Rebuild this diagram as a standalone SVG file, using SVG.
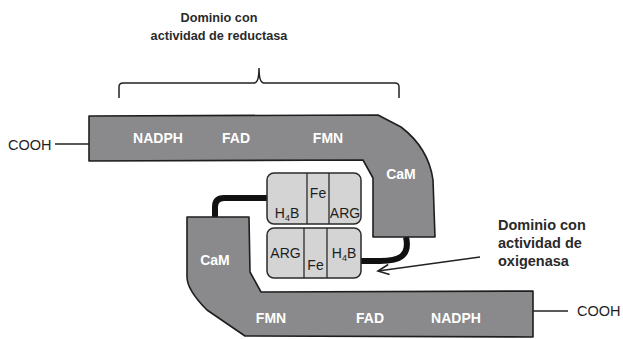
<svg xmlns="http://www.w3.org/2000/svg" width="623" height="339" viewBox="0 0 623 339">
<style>
.band{fill:#8a8a8c;stroke:#1e1e1e;stroke-width:1.6;stroke-linejoin:round}
.box{fill:#d4d4d4;stroke:#2a2a2a;stroke-width:1.5}
.div{stroke:#2a2a2a;stroke-width:1.3}
.wl{font-family:"Liberation Sans",Arial,sans-serif;font-weight:bold;font-size:14px;fill:#ffffff;text-anchor:middle}
.bt{font-family:"Liberation Sans",Arial,sans-serif;font-size:14px;fill:#1e1e1e;text-anchor:middle}
.lbl{font-family:"Liberation Sans",Arial,sans-serif;font-weight:bold;fill:#2a2a2a}
.cooh{font-family:"Liberation Sans",Arial,sans-serif;font-size:14.5px;fill:#1e1e1e}
.thick{fill:none;stroke:#111;stroke-width:6;stroke-linecap:butt}
.thin{fill:none;stroke:#222;stroke-width:1.5}
</style>
<defs>
<marker id="open" markerWidth="14" markerHeight="14" refX="12" refY="6" orient="auto" markerUnits="userSpaceOnUse" viewBox="0 0 14 12">
<polyline points="1,1 12,6 1,11" fill="none" stroke="#222" stroke-width="1.6"/>
</marker>
</defs>

<g id="label-reductasa">
<text class="lbl" font-size="12.7" x="219" y="22" text-anchor="middle">Dominio con</text>
<text class="lbl" font-size="12.7" x="219" y="40" text-anchor="middle">actividad de reductasa</text>
<path class="thin" d="M119,98 L119,87 Q119,83 123,83 L254,83 Q259,83 259,68 Q259,83 264,83 L395,83 Q399,83 399,87 L399,98"/>
</g>

<g id="connectors">
<path class="thick" d="M267,198 L224,198 Q215,198 215,207 L215,218"/>
<path class="thick" d="M406,237 Q409,250 402,256 Q396,261 380,261 L361,261"/>
<line class="thin" x1="480" y1="257" x2="378" y2="271" marker-end="url(#open)"/>
<line class="thin" x1="55" y1="144" x2="89" y2="144"/>
<line class="thin" x1="533" y1="311" x2="568" y2="311"/>
</g>

<g id="band-top">
<path class="band" d="M89,116 L378,115 L401,127 C418,140 430,158 433,180 L435,237 L373,237 L373,178 L363,160 L89,161 Z"/>
<text class="wl" x="158" y="143">NADPH</text>
<text class="wl" x="236" y="143">FAD</text>
<text class="wl" x="328" y="143">FMN</text>
<text class="wl" x="401" y="179">CaM</text>
</g>

<g id="band-bottom">
<path class="band" d="M187,217 L249,217 L250,272 L261,292 L533,291 L533,337 L245,336 L207,310 C195,298 187,286 187,277 Z"/>
<text class="wl" x="215" y="265">CaM</text>
<text class="wl" x="271" y="323">FMN</text>
<text class="wl" x="370" y="323">FAD</text>
<text class="wl" x="456" y="323">NADPH</text>
</g>

<g id="cooh-left">
<text class="cooh" x="8" y="150">COOH</text>
</g>
<g id="cooh-right">
<text class="cooh" x="577" y="316">COOH</text>
</g>

<g id="box-upper">
<rect class="box" x="267" y="173" width="94" height="51" rx="7"/>
<line class="div" x1="307" y1="173" x2="307" y2="224"/>
<line class="div" x1="329" y1="173" x2="329" y2="224"/>
<text class="bt" x="318" y="198">Fe</text>
<text class="bt" x="287" y="218">H<tspan font-size="9" dy="3">4</tspan><tspan dy="-3">B</tspan></text>
<text class="bt" x="345" y="218">ARG</text>
</g>

<g id="box-lower">
<rect class="box" x="267" y="228" width="94" height="50" rx="7"/>
<line class="div" x1="304" y1="228" x2="304" y2="278"/>
<line class="div" x1="327" y1="228" x2="327" y2="278"/>
<text class="bt" x="285.5" y="258">ARG</text>
<text class="bt" x="315.5" y="270">Fe</text>
<text class="bt" x="344" y="258">H<tspan font-size="9" dy="3">4</tspan><tspan dy="-3">B</tspan></text>
</g>

<g id="label-oxigenasa">
<text class="lbl" font-size="14.5" x="498" y="230">Dominio con</text>
<text class="lbl" font-size="14.5" x="498" y="248">actividad de</text>
<text class="lbl" font-size="14.5" x="498" y="266">oxigenasa</text>
</g>
</svg>
